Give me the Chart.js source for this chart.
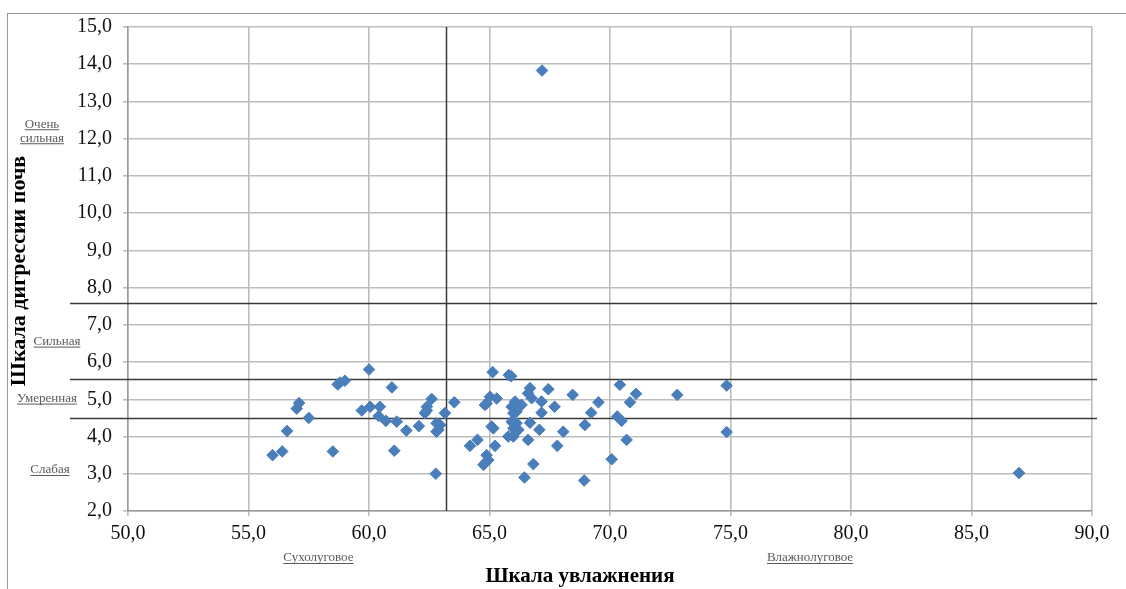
<!DOCTYPE html>
<html lang="ru">
<head>
<meta charset="utf-8">
<title>Шкала дигрессии почв / Шкала увлажнения</title>
<script src="https://cdn.jsdelivr.net/npm/chart.js@4.4.1/dist/chart.umd.min.js"></script>
<style>
  html, body { margin: 0; padding: 0; background: #fff; }
  #wrap { position: relative; width: 1126px; height: 589px; }
  #frame { position: absolute; left: 7px; top: 13px; right: 0; bottom: 0;
           border-left: 1px solid #9a9a9a; border-top: 1px solid #9a9a9a; pointer-events: none; }
</style>
</head>
<body>
<div id="wrap">
  <canvas id="chart"></canvas>
  <div id="frame"></div>
</div>
<script>
// data
const moisture = [
  56.0, 56.4, 56.6, 57.0, 57.1, 57.5, 58.5, 58.7, 58.8, 59.0,
  60.0, 59.7, 60.05, 60.45, 60.4, 60.7, 61.15, 60.95, 61.05, 61.55,
  62.07, 62.6, 62.4, 62.4, 62.32, 62.8, 62.95, 62.88, 62.8, 63.15,
  63.54, 62.77, 64.19, 64.5, 65.13, 65.8, 65.9, 65.02, 65.3, 64.88,
  64.81, 65.09, 65.16, 65.23, 64.88, 64.95, 64.75, 64.81, 66.06, 66.33,
  65.92, 65.99, 66.12, 66.68, 66.6, 66.75, 67.44, 67.16, 67.7, 67.16,
  65.92, 66.12, 65.99, 66.2, 66.68, 67.07, 68.06, 65.78, 65.99, 66.6,
  67.81, 66.82, 66.45, 68.45, 68.93, 68.96, 69.22, 69.52, 70.07, 70.41,
  70.83, 71.08, 70.3, 70.48, 70.69, 72.79, 74.84, 74.84, 67.18, 86.97
];
const digression = [
  3.5, 3.6, 4.15, 4.75, 4.9, 4.5, 3.6, 5.4, 5.45, 5.5,
  5.8, 4.7, 4.8, 4.8, 4.55, 4.42, 4.4, 5.32, 3.62, 4.16,
  4.28, 5.01, 4.8, 4.7, 4.63, 4.36, 4.31, 4.18, 4.13, 4.63,
  4.92, 3.0, 3.75, 3.91, 5.73, 5.65, 5.62, 5.07, 5.02, 4.89,
  4.85, 4.27, 4.22, 3.75, 3.5, 3.37, 3.24, 3.28, 4.94, 4.85,
  4.8, 4.63, 4.67, 5.3, 5.16, 5.03, 5.27, 4.94, 4.8, 4.64,
  4.4, 4.36, 4.22, 4.18, 4.37, 4.18, 4.13, 4.0, 4.0, 3.91,
  3.75, 3.26, 2.9, 5.12, 2.82, 4.31, 4.64, 4.92, 3.39, 5.39,
  4.92, 5.15, 4.54, 4.42, 3.91, 5.12, 5.37, 4.12, 13.83, 3.02
];

// zone borders (dark lines) and zone names
const zoneLinesY = [4.5, 5.55, 7.6];
const zoneLinesX = [63.2];
const yZoneNames = [['Очень', 'сильная'], ['Сильная'], ['Умеренная'], ['Слабая']];
const yZoneAt = [12.2, 6.55, 5.02, 3.1];
const xZoneNames = ['Сухолуговое', 'Влажнолуговое'];
const xZoneAt = [57.9, 78.3];

const xTitle = 'Шкала увлажнения';
const yTitle = 'Шкала дигрессии почв';

function fmt(v) { return v.toFixed(1).replace('.', ','); }

const points = moisture.map((x, i) => ({ x, y: digression[i] }));

const overlay = {
  id: 'overlay',
  beforeDatasetsDraw(chart) {
    const { ctx, chartArea: a, scales: { x, y } } = chart;
    ctx.save();
    ctx.strokeStyle = '#3a3a3a';
    ctx.lineWidth = 1.5;
    zoneLinesY.forEach(v => {
      const py = Math.round(y.getPixelForValue(v)) + 0.5;
      ctx.beginPath(); ctx.moveTo(70, py); ctx.lineTo(a.right + 5, py); ctx.stroke();
    });
    zoneLinesX.forEach(v => {
      const px = Math.round(x.getPixelForValue(v)) + 0.5;
      ctx.beginPath(); ctx.moveTo(px, a.top); ctx.lineTo(px, a.bottom); ctx.stroke();
    });
    ctx.restore();
  },
  afterDraw(chart) {
    const { ctx, scales: { x, y } } = chart;
    ctx.save();
    // small underlined zone names
    ctx.font = '13px "Liberation Serif", "DejaVu Serif", serif';
    ctx.fillStyle = '#5a5a5a';
    ctx.strokeStyle = '#5a5a5a';
    ctx.lineWidth = 1;
    ctx.textAlign = 'center';
    ctx.textBaseline = 'middle';
    const underline = (t, cx, cy) => {
      ctx.fillText(t, cx, cy);
      const w = ctx.measureText(t).width;
      ctx.beginPath(); ctx.moveTo(cx - w / 2, cy + 5.5); ctx.lineTo(cx + w / 2, cy + 5.5); ctx.stroke();
    };
    const yCenters = [42, 57, 47, 50];
    yZoneNames.forEach((lines, i) => {
      const cy = y.getPixelForValue(yZoneAt[i]);
      lines.forEach((t, j) => underline(t, yCenters[i], cy + (j - (lines.length - 1) / 2) * 14));
    });
    xZoneNames.forEach((t, i) => underline(t, x.getPixelForValue(xZoneAt[i]), 558));

    // axis titles
    ctx.fillStyle = '#000';
    ctx.font = 'bold 21px "Liberation Serif", "DejaVu Serif", serif';
    ctx.fillText(xTitle, 580, 577);
    ctx.font = 'bold 22px "Liberation Serif", "DejaVu Serif", serif';
    ctx.translate(19, 271);
    ctx.rotate(-Math.PI / 2);
    ctx.fillText(yTitle, 0, 0);
    ctx.restore();
  }
};

const tickFont = { family: '"Liberation Serif", "DejaVu Serif", serif', size: 20 };
const gridStyle = { color: '#bdbdbd', lineWidth: 1.6, tickLength: 5, drawTicks: true };

new Chart(document.getElementById('chart'), {
  type: 'scatter',
  data: {
    datasets: [{
      data: points,
      pointStyle: 'rectRot',
      pointRadius: 5.8,
      pointHoverRadius: 5.8,
      backgroundColor: '#4a7ebb',
      borderColor: '#4a7ebb',
      borderWidth: 1
    }]
  },
  options: {
    responsive: true,
    maintainAspectRatio: false,
    animation: false,
    layout: { padding: { left: 0, top: 27, right: 34, bottom: 0 } },
    plugins: { legend: { display: false }, tooltip: { enabled: false } },
    scales: {
      x: {
        type: 'linear', min: 50, max: 90,
        ticks: { stepSize: 5, color: '#111', font: tickFont, padding: 6, callback: v => fmt(v) },
        grid: gridStyle,
        border: { color: '#9a9a9a', width: 1.5 },
        afterFit: s => { s.height = 78; }
      },
      y: {
        type: 'linear', min: 2, max: 15,
        ticks: { stepSize: 1, color: '#111', font: tickFont, padding: 11, callback: v => fmt(v) },
        grid: gridStyle,
        border: { color: '#9a9a9a', width: 1.5 },
        afterFit: s => { s.width = 128; }
      }
    }
  },
  plugins: [overlay]
});
</script>
</body>
</html>
